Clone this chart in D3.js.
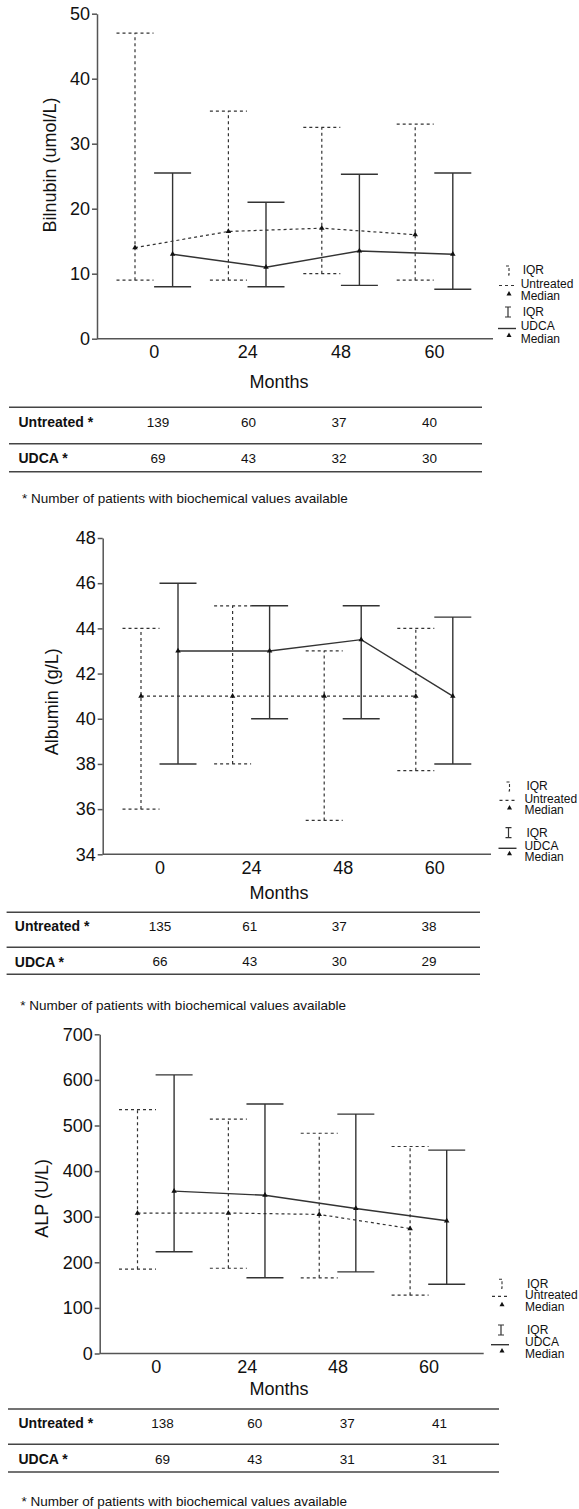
<!DOCTYPE html>
<html>
<head>
<meta charset="utf-8">
<script src="https://cdn.jsdelivr.net/npm/d3@7"></script>
<style>
  body { margin: 0; background: #fff; }
  text { font-family: "Liberation Sans", Arial, sans-serif; fill: #111; }
</style>
</head>
<body>
<div id="chart"></div>
<script>
// months of follow-up
var months = ["0", "24", "48", "60"];

// [lower quartile, median, upper quartile]
var biliUntreated = [[9, 14, 47], [9, 16.5, 35], [10, 17, 32.5], [9, 16, 33]];
var biliUdca = [[8, 13, 25.5], [8, 11, 21], [8.2, 13.5, 25.3], [7.6, 13, 25.5]];
var albUntreated = [[36, 41, 44], [38, 41, 45], [35.5, 41, 43], [37.7, 41, 44]];
var albUdca = [[38, 43, 46], [40, 43, 45], [40, 43.5, 45], [38, 41, 44.5]];
var alpUntreated = [[185, 308, 535], [187, 308, 514], [166, 305, 483], [128, 274, 454]];
var alpUdca = [[223, 356, 611], [166, 347, 547], [179, 318, 525], [152, 291, 446]];

// number of patients
var biliNUntreated = [139, 60, 37, 40];
var biliNUdca = [69, 43, 32, 30];
var albNUntreated = [135, 61, 37, 38];
var albNUdca = [66, 43, 30, 29];
var alpNUntreated = [138, 60, 37, 41];
var alpNUdca = [69, 43, 31, 31];

// y tick labels
var biliTicks = [0, 10, 20, 30, 40, 50];
var albTicks = [34, 36, 38, 40, 42, 44, 46, 48];
var alpTicks = [0, 100, 200, 300, 400, 500, 600, 700];

var legendLabels = ["IQR", "Untreated", "Median", "IQR", "UDCA", "Median"];
var rowLabels = ["Untreated *", "UDCA *"];
var footnote = "* Number of patients with biochemical values available";

var svg = d3.select("#chart")
  .append("svg")
  .attr("width", 579)
  .attr("height", 1509);

var ink = "#333";

function drawPanel(p) {
  var g = svg.append("g");

  var y = d3.scaleLinear().domain(p.yDomain).range(p.yRange);
  var x = d3.scalePoint().domain(months).range(p.centers);

  // y axis
  var ya = g.append("g")
    .attr("transform", "translate(" + p.axisX + ",0)")
    .call(d3.axisLeft(y).tickValues(p.ticks).tickSize(5).tickPadding(2).tickSizeOuter(0));
  ya.attr("font-size", 18).attr("font-family", null);
  ya.selectAll("line, path").attr("stroke", "#555").attr("stroke-width", 1.5);

  // x axis
  var xa = g.append("g")
    .attr("transform", "translate(0," + p.yRange[0] + ")")
    .call(d3.axisBottom(x).tickSize(0).tickPadding(7));
  xa.attr("font-size", 18).attr("font-family", null);
  xa.select(".domain").remove();
  g.append("line")
    .attr("x1", p.axisX).attr("x2", p.axisEnd)
    .attr("y1", p.yRange[0]).attr("y2", p.yRange[0])
    .attr("stroke", "#555").attr("stroke-width", 1.5);

  // axis titles
  g.append("text")
    .attr("transform", "translate(" + p.labelX + "," + p.labelY + ") rotate(-90)")
    .attr("text-anchor", "middle")
    .attr("dy", "0.35em")
    .style("font-size", "18px")
    .text(p.label);
  g.append("text")
    .attr("x", 279).attr("y", p.monthsY)
    .attr("text-anchor", "middle")
    .attr("dy", "0.35em")
    .style("font-size", "18px")
    .text("Months");

  var series = [
    {data: p.untreated, dx: -p.off, dash: "3,3", w: 1.2},
    {data: p.udca, dx: p.off, dash: null, w: 1.4}
  ];

  series.forEach(function(s) {
    var cx = function(d, i) { return x(months[i]) + s.dx; };
    var bars = g.append("g")
      .attr("stroke", ink)
      .attr("stroke-width", s.w)
      .attr("stroke-dasharray", s.dash);

    bars.selectAll(".v")
      .data(s.data).enter().append("line")
      .attr("x1", cx).attr("x2", cx)
      .attr("y1", function(d) { return y(d[0]); })
      .attr("y2", function(d) { return y(d[2]); });

    [0, 2].forEach(function(k) {
      bars.selectAll(".c" + k)
        .data(s.data).enter().append("line")
        .attr("x1", function(d, i) { return cx(d, i) - 18.5; })
        .attr("x2", function(d, i) { return cx(d, i) + 18.5; })
        .attr("y1", function(d) { return y(d[k]); })
        .attr("y2", function(d) { return y(d[k]); });
    });

    var line = d3.line()
      .x(function(d, i) { return cx(d, i); })
      .y(function(d) { return y(d[1]); });
    g.append("path")
      .datum(s.data)
      .attr("d", line)
      .attr("fill", "none")
      .attr("stroke", ink)
      .attr("stroke-width", s.w)
      .attr("stroke-dasharray", s.dash);

    g.selectAll(null)
      .data(s.data).enter().append("path")
      .attr("d", d3.symbol(d3.symbolTriangle, 13))
      .attr("transform", function(d, i) { return "translate(" + cx(d, i) + "," + y(d[1]) + ")"; })
      .attr("fill", "#111");
  });

  // legend
  var ly = p.legendY;
  var sx = p.legendX;
  var lg = g.append("g");
  lg.selectAll("text")
    .data(legendLabels).enter().append("text")
    .attr("x", function(d, i) { return i % 3 == 0 ? p.legendTextX + 2 : p.legendTextX; })
    .attr("y", function(d, i) { return ly[i]; })
    .attr("dy", "0.35em")
    .style("font-size", "12px")
    .text(function(d) { return d; });

  // untreated: dashed bracket, dashed line, triangle
  lg.append("path")
    .attr("d", "M" + (sx - 2) + "," + (ly[0] - 4) + "H" + (sx + 1) + "V" + (ly[0] + 5) + "H" + (sx - 2))
    .attr("fill", "none").attr("stroke", ink).attr("stroke-width", 1.1).attr("stroke-dasharray", "3,2");
  lg.append("line")
    .attr("x1", sx - 9).attr("x2", sx + 9)
    .attr("y1", ly[1] + 2).attr("y2", ly[1] + 2)
    .attr("stroke", ink).attr("stroke-width", 1.2).attr("stroke-dasharray", "3,3");
  lg.append("path")
    .attr("d", d3.symbol(d3.symbolTriangle, 11))
    .attr("transform", "translate(" + (sx + 1) + "," + (ly[2] - 2) + ")")
    .attr("fill", "#111");

  // udca: I-beam, solid line, triangle
  lg.append("path")
    .attr("d", "M" + (sx - 3) + "," + (ly[3] - 5) + "H" + (sx + 3) +
               "M" + sx + "," + (ly[3] - 5) + "V" + (ly[3] + 5) +
               "M" + (sx - 3) + "," + (ly[3] + 5) + "H" + (sx + 3))
    .attr("fill", "none").attr("stroke", ink).attr("stroke-width", 1.2);
  lg.append("line")
    .attr("x1", sx - 10).attr("x2", sx + 8)
    .attr("y1", ly[4] + 3).attr("y2", ly[4] + 3)
    .attr("stroke", ink).attr("stroke-width", 1.4);
  lg.append("path")
    .attr("d", d3.symbol(d3.symbolTriangle, 11))
    .attr("transform", "translate(" + (sx + 1) + "," + (ly[5] - 3) + ")")
    .attr("fill", "#111");

  // table of patient numbers
  var t = g.append("g");
  t.selectAll("line")
    .data(p.tableLines).enter().append("line")
    .attr("x1", p.tableX[0]).attr("x2", p.tableX[1])
    .attr("y1", function(d) { return d; }).attr("y2", function(d) { return d; })
    .attr("stroke", "#444").attr("stroke-width", 1.6);

  var nx = d3.scalePoint().domain(months).range(p.countRange);
  [p.nUntreated, p.nUdca].forEach(function(row, r) {
    t.append("text")
      .attr("x", p.rowLabelX).attr("y", p.rowY[r])
      .attr("dy", "0.35em")
      .style("font-size", "14px")
      .style("font-weight", "bold")
      .text(rowLabels[r]);
    t.selectAll(null)
      .data(row).enter().append("text")
      .attr("x", function(d, i) { return nx(months[i]); })
      .attr("y", p.rowY[r])
      .attr("dy", "0.35em")
      .attr("text-anchor", "middle")
      .style("font-size", "13.5px")
      .text(function(d) { return d; });
  });

  g.append("text")
    .attr("x", p.footX).attr("y", p.footY)
    .attr("dy", "0.35em")
    .style("font-size", "13.5px")
    .text(footnote);
}

drawPanel({
  yDomain: [0, 50], yRange: [338.7, 13.7], ticks: biliTicks,
  axisX: 97, axisEnd: 493, centers: [153.8, 434], off: 18.8,
  label: "Bilnubin (umol/L)", labelX: 50, labelY: 165, monthsY: 382,
  untreated: biliUntreated, udca: biliUdca,
  legendX: 508, legendTextX: 520.7, legendY: [270, 283.5, 296, 312, 325.5, 338.5],
  tableLines: [407.3, 443.7, 471.7], tableX: [9, 482], rowLabelX: 18.5, rowY: [422.3, 458],
  countRange: [158, 429.5], nUntreated: biliNUntreated, nUdca: biliNUdca,
  footX: 22, footY: 498
});

drawPanel({
  yDomain: [34, 48], yRange: [854.3, 538], ticks: albTicks,
  axisX: 102.7, axisEnd: 491, centers: [159.5, 434.3], off: 18.5,
  label: "Albumin (g/L)", labelX: 51.7, labelY: 701.7, monthsY: 892.7,
  untreated: albUntreated, udca: albUdca,
  legendX: 508.5, legendTextX: 524.4, legendY: [786, 798.3, 810, 832.7, 845.3, 856.7],
  tableLines: [912.3, 947.3, 974.3], tableX: [6.6, 480], rowLabelX: 14.8, rowY: [926, 961.7],
  countRange: [160, 429], nUntreated: albNUntreated, nUdca: albNUdca,
  footX: 20.3, footY: 1005
});

drawPanel({
  yDomain: [0, 700], yRange: [1353.5, 1034.3], ticks: alpTicks,
  axisX: 99.7, axisEnd: 483.7, centers: [155.8, 428.4], off: 18.3,
  label: "ALP (U/L)", labelX: 41.4, labelY: 1198.3, monthsY: 1388.3,
  untreated: alpUntreated, udca: alpUdca,
  legendX: 501, legendTextX: 525, legendY: [1283.3, 1294.3, 1306.7, 1330, 1341.7, 1354],
  tableLines: [1409, 1444.3, 1472], tableX: [8, 499], rowLabelX: 18.5, rowY: [1423.3, 1459.3],
  countRange: [162.5, 439.5], nUntreated: alpNUntreated, nUdca: alpNUdca,
  footX: 21.4, footY: 1501.7
});
</script>
</body>
</html>
